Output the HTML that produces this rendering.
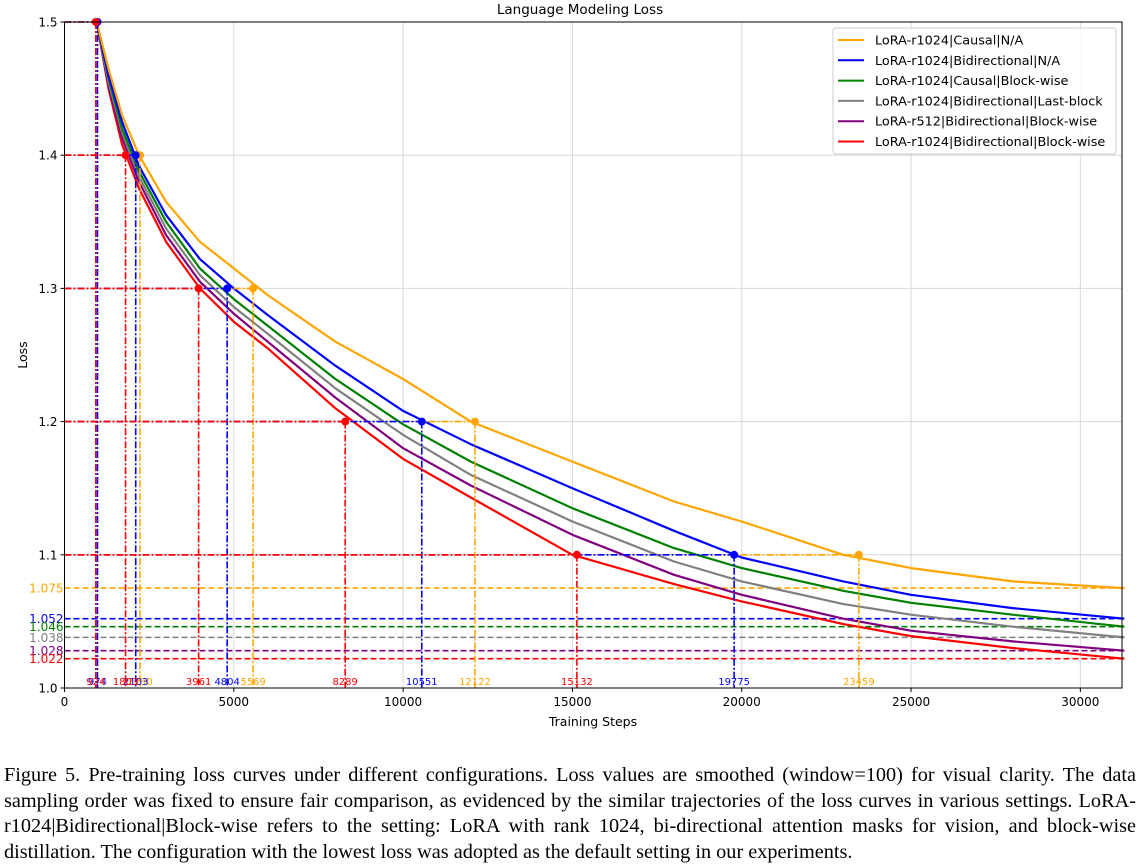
<!DOCTYPE html>
<html><head><meta charset="utf-8"><style>
body{margin:0;background:#fff;width:1138px;height:864px;overflow:hidden;position:relative}
#cap{position:absolute;left:4px;top:763px;width:1132px;font-family:"Liberation Serif",serif;font-size:20.3px;word-spacing:-2px;line-height:25.6px;color:#000}
#cap div{white-space:nowrap;text-align:justify;text-align-last:justify}
#cap div.last{text-align-last:left;word-spacing:0}
</style></head><body>
<svg id="chart" width="1138" height="760" style="position:absolute;left:0;top:0" font-family="DejaVu Sans, Liberation Sans, sans-serif"></svg>
<div id="cap">
<div>Figure 5. Pre-training loss curves under different configurations. Loss values are smoothed (window=100) for visual clarity. The data</div>
<div>sampling order was fixed to ensure fair comparison, as evidenced by the similar trajectories of the loss curves in various settings. LoRA-</div>
<div>r1024|Bidirectional|Block-wise refers to the setting: LoRA with rank 1024, bi-directional attention masks for vision, and block-wise</div>
<div class="last">distillation. The configuration with the lowest loss was adopted as the default setting in our experiments.</div>
</div>
<script>
const steps=[950,1300,1700,2200,3000,4000,5000,6000,8000,10000,12000,15000,18000,20000,23000,25000,28000,31300];
const orangeLoss=[1.5,1.465,1.43,1.40,1.365,1.335,1.315,1.295,1.26,1.232,1.20,1.17,1.14,1.125,1.10,1.09,1.08,1.075];
const blueLoss=[1.5,1.46,1.425,1.392,1.355,1.322,1.30,1.28,1.242,1.208,1.183,1.15,1.118,1.098,1.08,1.07,1.06,1.052];
const greenLoss=[1.5,1.458,1.42,1.388,1.35,1.315,1.292,1.272,1.232,1.198,1.17,1.135,1.105,1.09,1.073,1.064,1.055,1.046];
const grayLoss=[1.5,1.455,1.417,1.384,1.345,1.31,1.286,1.266,1.225,1.19,1.16,1.125,1.095,1.08,1.063,1.055,1.046,1.038];
const purpleLoss=[1.5,1.452,1.413,1.38,1.34,1.305,1.281,1.26,1.218,1.18,1.152,1.115,1.085,1.07,1.052,1.043,1.035,1.028];
const redLoss=[1.5,1.45,1.408,1.375,1.335,1.30,1.275,1.255,1.21,1.172,1.143,1.10,1.078,1.065,1.048,1.039,1.03,1.022];
const seriesNames=["LoRA-r1024|Causal|N/A","LoRA-r1024|Bidirectional|N/A","LoRA-r1024|Causal|Block-wise","LoRA-r1024|Bidirectional|Last-block","LoRA-r512|Bidirectional|Block-wise","LoRA-r1024|Bidirectional|Block-wise"];
const finalVals=[1.075,1.052,1.046,1.038,1.028,1.022];
const finalLabels=["1.075","1.052","1.046","1.038","1.028","1.022"];
const levels=[1.5,1.4,1.3,1.2,1.1];
const redCross=[924,1803,3961,8289,15132];
const blueCross=[974,2103,4804,10551,19775];
const orangeCross=[null,2230,5569,12122,23459];
const xTicks=[0,5000,10000,15000,20000,25000,30000];
const yTicks=[1.0,1.1,1.2,1.3,1.4,1.5];
const colors=["orange","blue","green","gray","purple","red"];
const X0=64.5,X1=1122,Y0=688,Y1=22,XMAX=31230;
const sx=v=>X0+v/XMAX*(X1-X0), sy=v=>Y0-(v-1.0)/0.5*(Y0-Y1);
const svg=document.getElementById('chart');
function mk(t,a,txt){const e=document.createElementNS('http://www.w3.org/2000/svg',t);for(const k in a)e.setAttribute(k,a[k]);if(txt!==undefined)e.textContent=txt;svg.appendChild(e);return e;}
let e;
e=mk('text',{x:580,y:14,'font-size':13.5,'text-anchor':'middle'},'Language Modeling Loss');


xTicks.forEach(t=>{
 e=mk('line',{x1:sx(t),x2:sx(t),y1:Y1,y2:Y0,stroke:'#d8d8d8','stroke-width':1});
 
 
 mk('line',{x1:sx(t),x2:sx(t),y1:Y0,y2:Y0+4,stroke:'#000'});
 e=mk('text',{x:sx(t),y:Y0+18,'font-size':12,'text-anchor':'middle'},String(t));
 
 
});
yTicks.forEach(t=>{
 e=mk('line',{x1:X0,x2:X1,y1:sy(t),y2:sy(t),stroke:'#d8d8d8','stroke-width':1});
 
 
 mk('line',{x1:X0-4,x2:X0,y1:sy(t),y2:sy(t),stroke:'#000'});
 e=mk('text',{x:X0-7,y:sy(t)+4.5,'font-size':12,'text-anchor':'end'},t.toFixed(1));
 
 
});
finalVals.forEach((v,i)=>{
 e=mk('line',{x1:X0,x2:X1,y1:sy(v),y2:sy(v),stroke:colors[i],'stroke-width':1.6,'stroke-dasharray':'6,3'});
 
 
 e=mk('text',{x:X0-1,y:sy(v)+4.5,'font-size':12,'text-anchor':'end',fill:colors[i]},finalLabels[i]);
 
 
});
[orangeLoss,blueLoss,greenLoss,grayLoss,purpleLoss,redLoss].map((d,i)=>[d,i]).reverse().forEach(([d,i])=>{
 const pts=steps.map((s,j)=>sx(s).toFixed(1)+','+sy(d[j]).toFixed(1)).join(' ');
 e=mk('polyline',{points:pts,fill:'none',stroke:colors[i],'stroke-width':2.2,'stroke-linejoin':'round'});
 
 
});
[[orangeCross,'orange'],[blueCross,'blue'],[redCross,'red']].forEach(([arr,c])=>{
 arr.forEach((s,j)=>{
  if(s===null)return;
  const x=sx(s),y=sy(levels[j]);
  e=mk('line',{x1:x,x2:x,y1:y,y2:Y0,stroke:c,'stroke-width':1.6,'stroke-dasharray':'7,2,2,2'});
  
  
  e=mk('line',{x1:X0,x2:x,y1:y,y2:y,stroke:c,'stroke-width':1.6,'stroke-dasharray':'7,2,2,2'});
  
  
  e=mk('circle',{cx:x,cy:y,r:4,fill:c});
  
  
  e=mk('text',{x:x,y:Y0-3,'font-size':10,'text-anchor':'middle',fill:c},String(s));
  
  
 });
});
e=mk('rect',{x:X0,y:Y1,width:X1-X0,height:Y0-Y1,fill:'none',stroke:'#000','stroke-width':1});


e=mk('text',{x:593,y:726,'font-size':12.5,'text-anchor':'middle'},'Training Steps');


e=mk('text',{x:27,y:355,'font-size':12.5,'text-anchor':'middle',transform:'rotate(-90 27 355)'},'Loss');


e=mk('rect',{x:833,y:28,width:283,height:126,rx:3,fill:'#fff','fill-opacity':0.85,stroke:'#ccc'});


seriesNames.forEach((n,i)=>{
 const y=40+i*20.3;
 mk('line',{x1:838,x2:864,y1:y,y2:y,stroke:colors[i],'stroke-width':2});
 e=mk('text',{x:875,y:y+4.5,'font-size':12.8},n);
 
 
});
</script>
</body></html>
